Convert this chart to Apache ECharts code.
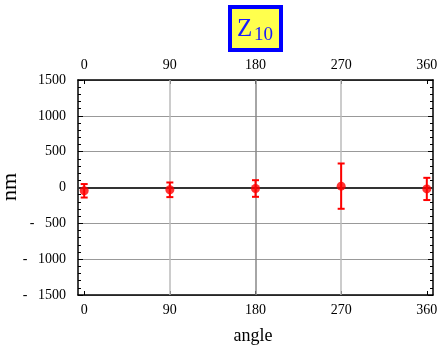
<!DOCTYPE html>
<html>
<head>
<meta charset="utf-8">
<script src="https://cdn.jsdelivr.net/npm/echarts@6/dist/echarts.min.js"></script>
<style>
  html, body { margin: 0; padding: 0; background: #fff; }
  #chart { width: 442px; height: 346px; }
</style>
</head>
<body>
<div id="chart"></div>
<script>
// Measured Z10 offsets (nm) per rotation angle, with +/- error
const angles = [0, 90, 180, 270, 360];
const means = [-46, -32, -14, 19, -20];
const errors = [94, 102, 116, 316, 155];

const angleTicks = [0, 90, 180, 270, 360];
const angleGrid = [90, 180, 270];
const angleGridColors = ['#bbbbbb', '#888888', '#bbbbbb'];

const SERIF = '"Liberation Serif", "DejaVu Serif", serif';

const points = angles.map((a, i) => [a, means[i]]);
const bars = angles.map((a, i) => [a, means[i] - errors[i], means[i] + errors[i]]);

const chart = echarts.init(document.getElementById('chart'), null, { renderer: 'canvas' });

const xBase = {
  type: 'value',
  min: -6.5,
  max: 366.5,
  splitLine: { show: false },
  axisLine: { show: true, onZero: false, lineStyle: { color: '#000', width: 1.5 } },
  axisTick: { show: true, inside: true, length: 4, customValues: angleTicks, lineStyle: { color: '#000' } },
  axisLabel: { customValues: angleTicks, fontFamily: SERIF, fontSize: 14, color: '#000', margin: 8 }
};

const yBase = {
  type: 'value',
  min: -1500,
  max: 1500,
  interval: 500,
  axisLine: { show: true, onZero: false, lineStyle: { color: '#000', width: 1.5 } },
  axisTick: { show: true, inside: true, length: 5, lineStyle: { color: '#000' } },
  minorTick: { show: true, splitNumber: 5, length: 3, lineStyle: { color: '#000' } }
};

chart.setOption({
  animation: false,
  backgroundColor: '#fff',
  grid: { left: 78, right: 9, top: 80, bottom: 51, containLabel: false },
  xAxis: [
    Object.assign({}, xBase, { position: 'bottom' }),
    Object.assign({}, xBase, { position: 'top' })
  ],
  yAxis: [
    Object.assign({}, yBase, {
      position: 'left',
      splitLine: { show: true, lineStyle: { color: '#999999', width: 1 } },
      axisLabel: {
        fontFamily: SERIF, fontSize: 14, color: '#000', margin: 12,
        formatter: v => v < 0 ? '-   ' + Math.abs(v) : String(v)
      }
    }),
    Object.assign({}, yBase, {
      position: 'right',
      splitLine: { show: false },
      axisLabel: { show: false }
    })
  ],
  graphic: [
    {
      type: 'rect',
      shape: { x: 230, y: 7, width: 51, height: 43 },
      style: { fill: '#ffff4d', stroke: '#0000ff', lineWidth: 4 },
      z: 10
    },
    {
      type: 'text',
      x: 237, y: 29,
      style: { text: 'Z', fontFamily: SERIF, fontSize: 25, fill: '#1a1aff', verticalAlign: 'middle' },
      z: 11
    },
    {
      type: 'text',
      x: 254, y: 35.5,
      style: { text: '10', fontFamily: SERIF, fontSize: 19, fill: '#1a1aff', verticalAlign: 'middle' },
      z: 11
    },
    {
      type: 'text',
      x: 10, y: 187, rotation: Math.PI / 2,
      style: { text: 'nm', fontFamily: SERIF, fontSize: 22, fill: '#000', align: 'center', verticalAlign: 'middle' }
    },
    {
      type: 'text',
      x: 253, y: 336,
      style: { text: 'angle', fontFamily: SERIF, fontSize: 18, fill: '#000', align: 'center', verticalAlign: 'middle' }
    }
  ],
  series: [
    {
      type: 'line',
      data: [],
      silent: true,
      markLine: {
        symbol: 'none',
        silent: true,
        label: { show: false },
        data: angleGrid.map((a, i) => ({ xAxis: a, lineStyle: { color: angleGridColors[i], width: 1.5, type: 'solid' } }))
          .concat([{ yAxis: 0, lineStyle: { color: '#333333', width: 2, type: 'solid' } }])
      },
      z: 1
    },
    {
      type: 'custom',
      data: bars,
      renderItem: function (params, api) {
        const x = api.value(0);
        const lo = api.coord([x, api.value(1)]);
        const hi = api.coord([x, api.value(2)]);
        const cap = 3.5;
        const style = { stroke: '#ff0000', lineWidth: 2 };
        return {
          type: 'group',
          children: [
            { type: 'line', shape: { x1: lo[0], y1: lo[1], x2: hi[0], y2: hi[1] }, style: style },
            { type: 'line', shape: { x1: lo[0] - cap, y1: lo[1], x2: lo[0] + cap, y2: lo[1] }, style: style },
            { type: 'line', shape: { x1: hi[0] - cap, y1: hi[1], x2: hi[0] + cap, y2: hi[1] }, style: style }
          ]
        };
      },
      z: 5
    },
    {
      type: 'scatter',
      data: points,
      symbol: 'circle',
      symbolSize: 9,
      itemStyle: { color: '#ff0000' },
      z: 6
    }
  ]
});
</script>
</body>
</html>
